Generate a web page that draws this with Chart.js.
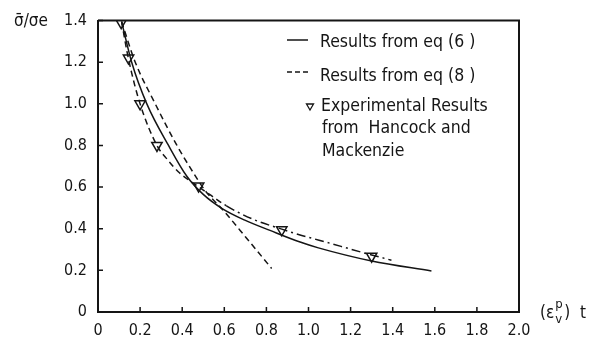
<!DOCTYPE html>
<html><head><meta charset="utf-8">
<script src="https://cdn.jsdelivr.net/npm/chart.js@4"></script>
<style>html,body{margin:0;padding:0;background:#fff}#c{display:block}</style>
</head><body>
<canvas id="c" width="592" height="349"></canvas>
<script>
const FONT = '"Liberation Sans Narrow","DejaVu Sans Condensed","Roboto Condensed",sans-serif';
const INK = '#151515';

const xTickLabels = ['0','0.2','0.4','0.6','0.8','1.0','1.2','1.4','1.6','1.8','2.0'];
const yTickLabels = ['0','0.2','0.4','0.6','0.8','1.0','1.2','1.4'];

// Results from eq (6) – solid
const eq6X = [0.112,0.16,0.232,0.335,0.422,0.50,0.59,0.70,0.817,0.96,1.047,1.30,1.584];
const eq6Y = [1.395,1.20,1.00,0.80,0.652,0.565,0.497,0.44,0.392,0.336,0.308,0.245,0.197];

// Results from eq (8) – dashed, upper branch (steep)
const eq8aX = [0.112,0.177,0.272,0.375,0.44,0.509,0.596,0.70,0.825];
const eq8aY = [1.395,1.20,1.00,0.80,0.69,0.583,0.487,0.362,0.209];

// Results from eq (8) – dashed / dash-dot, branch through experiments
const eq8bX = [0.112,0.145,0.20,0.28,0.33,0.38,0.43,0.48,0.53,0.61,0.738,0.873,0.96,1.05,1.30,1.394];
const eq8bY = [1.395,1.215,1.00,0.80,0.732,0.675,0.635,0.60,0.565,0.51,0.445,0.398,0.37,0.345,0.274,0.249];

// Experimental results from Hancock and Mackenzie
const expX = [0.11,0.145,0.20,0.28,0.478,0.873,1.30];
const expY = [1.39,1.22,1.00,0.80,0.605,0.395,0.268];

const pts = (xs, ys) => xs.map((x, i) => ({x, y: ys[i]}));

const framePlugin = {
  id: 'frame',
  afterDraw(chart) {
    const {ctx, chartArea: a, scales: {x, y}} = chart;
    ctx.save();
    ctx.strokeStyle = INK;
    ctx.lineWidth = 2;
    ctx.beginPath();
    ctx.moveTo(a.left, a.top); ctx.lineTo(a.right, a.top); ctx.lineTo(a.right, a.bottom);
    ctx.stroke();
    ctx.lineWidth = 1.5;
    ctx.beginPath();
    x.ticks.forEach(t => {
      const px = x.getPixelForValue(t.value);
      ctx.moveTo(px, a.bottom); ctx.lineTo(px, a.bottom - 5);
    });
    y.ticks.forEach(t => {
      const py = y.getPixelForValue(t.value);
      ctx.moveTo(a.left, py); ctx.lineTo(a.left + 5, py);
    });
    ctx.stroke();

    // axis titles
    ctx.fillStyle = INK;
    ctx.textBaseline = 'middle';
    ctx.textAlign = 'left';
    ctx.font = '17px ' + FONT;
    ctx.fillText('\u03C3\u0304/\u03C3e', 14, 22);
    ctx.fillText('(\u03B5', 540, 314);
    const w = ctx.measureText('(\u03B5').width;
    ctx.font = '13px ' + FONT;
    ctx.fillText('p', 540 + w + 1, 305);
    ctx.fillText('v', 540 + w + 1, 320);
    ctx.font = '17px ' + FONT;
    ctx.fillText(')  t', 540 + w + 10, 314);

    // legend
    ctx.lineWidth = 1.5;
    ctx.strokeStyle = INK;
    ctx.beginPath(); ctx.moveTo(287, 40); ctx.lineTo(308, 40); ctx.stroke();
    ctx.setLineDash([5, 3]);
    ctx.beginPath(); ctx.moveTo(287, 72); ctx.lineTo(308, 72); ctx.stroke();
    ctx.setLineDash([]);
    ctx.lineWidth = 1.3;
    ctx.beginPath();
    ctx.moveTo(306.5, 104); ctx.lineTo(313.5, 104); ctx.lineTo(310, 110); ctx.closePath();
    ctx.stroke();
    ctx.font = '17.5px ' + FONT;
    ctx.fillText('Results from eq (6 )', 320, 42);
    ctx.fillText('Results from eq (8 )', 320, 76);
    ctx.fillText('Experimental Results', 321, 106);
    ctx.fillText('from  Hancock and', 322, 128);
    ctx.fillText('Mackenzie', 322, 151);
    ctx.restore();
  }
};

new Chart(document.getElementById('c'), {
  type: 'line',
  data: {
    datasets: [
      {
        label: 'Results from eq (6)',
        data: pts(eq6X, eq6Y),
        borderColor: INK, borderWidth: 1.5, pointRadius: 0,
        cubicInterpolationMode: 'monotone', fill: false
      },
      {
        label: 'Results from eq (8)',
        data: pts(eq8aX, eq8aY),
        borderColor: INK, borderWidth: 1.5, pointRadius: 0, borderDash: [6, 4],
        cubicInterpolationMode: 'monotone', fill: false
      },
      {
        label: 'Results from eq (8) b',
        data: pts(eq8bX, eq8bY),
        borderColor: INK, borderWidth: 1.5, pointRadius: 0, borderDash: [6, 4],
        segment: { borderDash: c => c.p0.parsed.x >= 0.55 ? [9, 4, 2, 4] : [6, 4] },
        cubicInterpolationMode: 'monotone', fill: false
      },
      {
        label: 'Experimental Results',
        data: pts(expX, expY),
        showLine: false,
        pointStyle: 'triangle', rotation: 180, pointRadius: 6,
        pointBorderColor: INK, pointBackgroundColor: 'rgba(0,0,0,0)', pointBorderWidth: 1.5
      }
    ]
  },
  options: {
    responsive: false,
    animation: false,
    devicePixelRatio: 1,
    layout: { padding: { left: 0, top: 19, right: 73, bottom: 0 } },
    plugins: { legend: { display: false }, tooltip: { enabled: false } },
    scales: {
      x: {
        type: 'linear', min: 0, max: 2,
        grid: { display: false, drawTicks: false },
        border: { display: true, color: INK, width: 2 },
        ticks: { stepSize: 0.2, padding: 9, color: INK, font: { family: FONT, size: 16 },
                 callback: (v, i) => xTickLabels[i] },
        afterFit: s => { s.height = 37; }
      },
      y: {
        type: 'linear', min: 0, max: 1.4,
        grid: { display: false, drawTicks: false },
        border: { display: true, color: INK, width: 2 },
        ticks: { stepSize: 0.2, padding: 11, color: INK, font: { family: FONT, size: 16 },
                 callback: (v, i) => yTickLabels[i] },
        afterFit: s => { s.width = 98; }
      }
    }
  },
  plugins: [framePlugin]
});
</script>
</body></html>
